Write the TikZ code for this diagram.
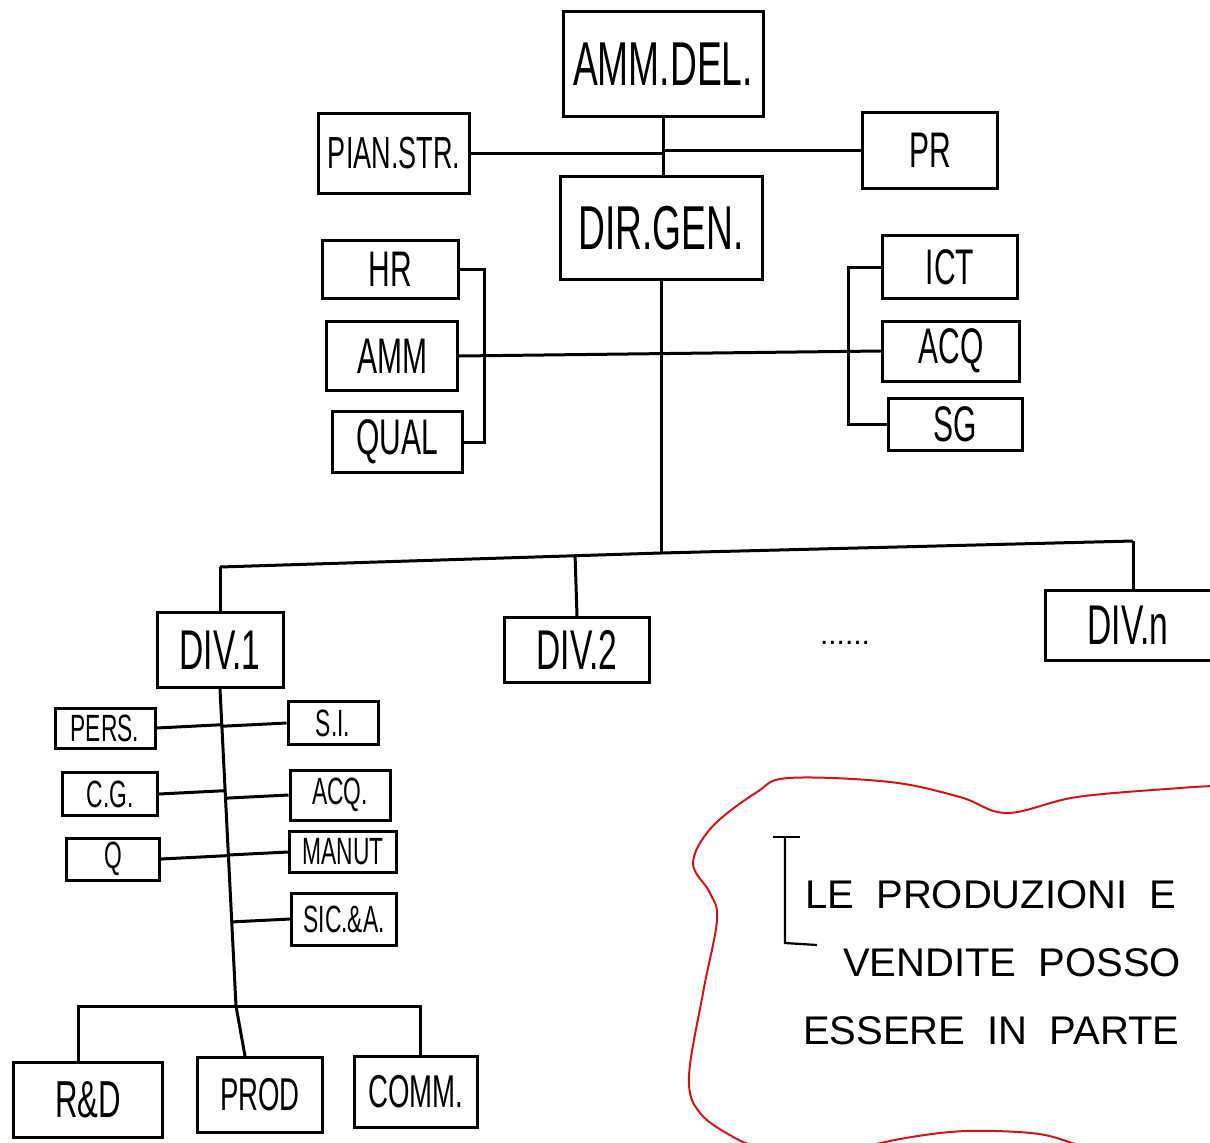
\documentclass[tikz,border=0pt]{standalone}
\usepackage{fontspec}
\setmainfont{Liberation Sans}
\newfontfamily\nar[FakeStretch=0.6]{Liberation Sans}
\usetikzlibrary{calc}
\definecolor{inkred}{HTML}{D0141A}
\tikzset{
  unit/.style={draw, line width=3pt, inner sep=0pt, align=center},
  big/.style={unit, font=\nar\fontsize{62}{62}\selectfont},
  mid/.style={unit, font=\nar\fontsize{50}{50}\selectfont},
  dv/.style={unit, font=\nar\fontsize{56}{56}\selectfont},
  sml/.style={unit, font=\nar\fontsize{38}{38}\selectfont},
  bot/.style={unit, font=\nar\fontsize{52}{52}\selectfont},
  wire/.style={line width=3pt},
  sz/.style 2 args={minimum width=#1pt, minimum height=#2pt},
  note/.style={anchor=west, inner sep=0pt, font=\fontsize{40}{40}\selectfont}
}
\begin{document}
\begin{tikzpicture}[x=1pt,y=-1pt]
\useasboundingbox (0,0) rectangle (1210,1143);
\fill[white] (0,0) rectangle (1210,1143);

% top
\node[big, sz={200}{105}] (amm) at (663,64) {AMM.DEL.};
\node[big, sz={202}{103}] (dir) at (661,228) {DIR.GEN.};
\node[mid, font=\nar\fontsize{45}{45}\selectfont, sz={151}{80}] (pian) at (394,153) {PIAN.STR.};
\node[mid, sz={135}{76}] (pr) at (930,150) {PR};

\draw[wire] (amm.south) -- (amm.south |- dir.north);
\draw[wire] (pian.east) -- (pian.east -| amm.south);
\draw[wire] (pr.west) -- (pr.west -| amm.south);

% staff left
\node[mid, sz={136}{58}] (hr) at (390,269) {HR};
\node[mid, sz={131}{69}] (ammn) at (392,356) {AMM};
\node[mid, sz={130}{61}] (qual) at (397,442) {QUAL};
% staff right
\node[mid, sz={135}{63}] (ict) at (950,267) {ICT};
\node[mid, sz={137}{60}] (acq) at (951,351) {ACQ};
\node[mid, sz={134}{52}] (sg) at (955,424) {SG};

\draw[wire] (hr.east) -- ++(25,0) |- (qual.east);
\draw[wire] (ict.west) -- ++(-33,0) |- (sg.west);
\draw[wire] (ammn.east) -- (acq.west);

% divisions
\coordinate (bus) at (661,553);
\coordinate (b1) at (220,567);
\coordinate (bn) at (1133,541);
\draw[wire] (dir.south) -- (bus);
\draw[wire] (b1) -- (bus) -- (bn);

\node[dv, sz={126}{75}] (div1) at (220,650) {DIV.1};
\node[dv, sz={145}{65}] (div2) at (577,650) {DIV.2};
\node[dv, sz={166}{70}] (divn) at (1128,625) {DIV.n};
\node[font=\fontsize{30}{30}\selectfont, inner sep=0pt] (dots) at (845,643) {......};

\draw[wire] (b1) -- (div1.north);
\draw[wire] ($(b1)!(div2.north)!(bus)$) -- (div2.north);
\draw[wire] (bn) -- (bn |- divn.north);

% division 1 units
\node[sml, sz={100}{40}] (pers) at (105,728) {PERS.};
\node[sml, sz={95}{43}] (cg) at (110,794) {C.G.};
\node[sml, sz={93}{42}] (q) at (113,859) {Q};
\node[sml, sz={90}{43}] (si) at (333,723) {S.I.};
\node[sml, sz={100}{50}] (acqd) at (340,795) {ACQ.};
\node[sml, sz={107}{41}] (manut) at (343,852) {MANUT};
\node[sml, sz={105}{52}] (sic) at (344,919) {SIC.\&A.};

\coordinate (spb) at (236,1006);
\draw[wire] (div1.south) -- (spb);
\foreach \u in {pers,cg,q}
  \draw[wire] (\u.east) -- ($(div1.south)!(\u.east)!(spb)$);
\foreach \u in {si,acqd,manut,sic}
  \draw[wire] (\u.west) -- ($(div1.south)!(\u.west)!(spb)$);

\node[bot, sz={149}{75}] (rsd) at (88,1100) {R\&D};
\node[bot, font=\nar\fontsize{46}{46}\selectfont, sz={125}{75}] (prod) at (260,1095) {PROD};
\node[bot, font=\nar\fontsize{46}{46}\selectfont, sz={123}{71}] (comm) at (416,1092) {COMM.};

\draw[wire] (spb) -- ([xshift=-15pt]prod.north);
\draw[wire] ([xshift=-10pt]rsd.north) |- (spb) -| ([xshift=4pt]comm.north);

% note
\draw[inkred, line width=2pt] plot[smooth, tension=0.6] coordinates {
  (1215,786) (1180,788) (1077,797) (1007,813) (960,797) (890,782) (789,778)
  (757,792) (712,827) (693,863) (710,893) (717,920) (703,993) (689,1077)
  (700,1113) (735,1138) (760,1148)};
\draw[inkred, line width=2pt] plot[smooth, tension=0.6] coordinates {
  (860,1148) (900,1139) (950,1132) (995,1131) (1045,1135) (1085,1148)};

\draw[line width=2.2pt] (773,837) -- (800,837);
\draw[line width=2.2pt] (785,837) -- (785,943) -- (817,945);
\node[note] (n1) at (805,895) {LE\ \ PRODUZIONI\ \ E};
\node[note] (n2) at (843,963) {VENDITE\ \ POSSO};
\node[note] (n3) at (803,1031) {ESSERE\ \ IN\ \ PARTE};
\end{tikzpicture}
\end{document}
